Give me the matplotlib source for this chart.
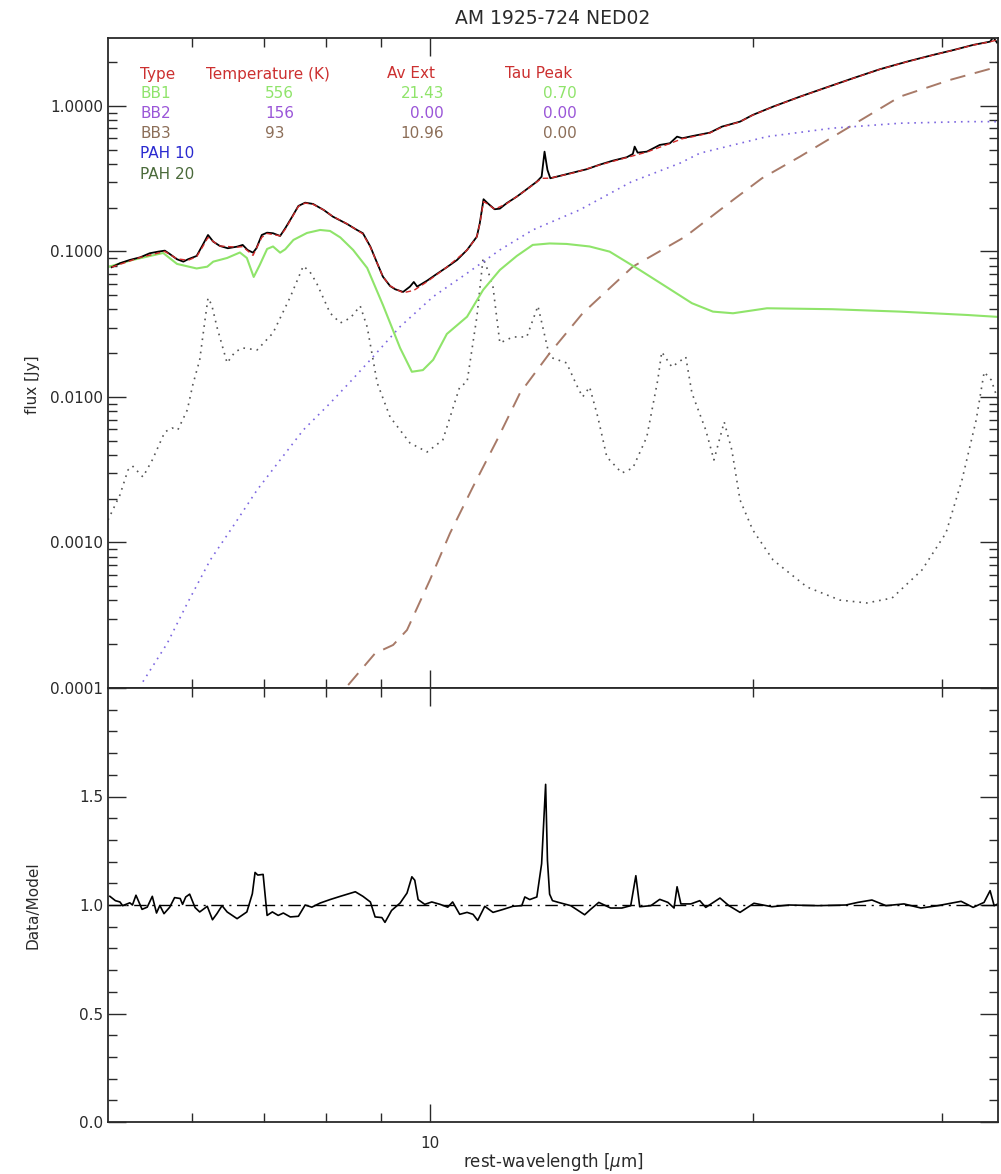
import numpy as np
import matplotlib
matplotlib.use("Agg")
import matplotlib.pyplot as plt
from matplotlib.ticker import FixedLocator, NullFormatter, FuncFormatter, MultipleLocator, LogLocator

# observed spectrum (rest wavelength in micron, flux in Jy)
wave_obs = [5.05, 5.14, 5.25, 5.37, 5.48, 5.58, 5.66, 5.72, 5.81, 5.89, 5.95, 6.06, 6.14, 6.21,
            6.28, 6.37, 6.48, 6.61, 6.69, 6.76, 6.84, 6.89, 6.97, 7.05, 7.14, 7.25, 7.33, 7.44,
            7.54, 7.65, 7.78, 7.96, 8.12, 8.37, 8.55, 8.66, 8.80, 8.93, 9.04, 9.18, 9.28, 9.44,
            9.58, 9.66, 9.73, 9.94, 10.15, 10.37, 10.60, 10.83, 11.06, 11.13, 11.22, 11.32, 11.49,
            11.62, 11.79, 12.05, 12.31, 12.58, 12.71, 12.79, 12.87, 12.95, 13.21, 13.59, 14.00,
            14.40, 14.81, 15.26, 15.46, 15.52, 15.62, 15.93, 16.38, 16.74, 17.00, 17.19, 17.59,
            18.24, 18.72, 19.46, 20.00, 20.89, 22.13, 23.45, 24.80, 26.28, 27.85, 29.45, 30.80,
            32.10, 33.29, 33.51, 33.79]
flux_obs = [0.0779, 0.0830, 0.0874, 0.0912, 0.0972, 0.0997, 0.1013, 0.0961, 0.0884, 0.0851,
            0.0884, 0.0931, 0.1109, 0.1298, 0.1168, 0.1091, 0.1052, 0.1079, 0.1109, 0.1024,
            0.0981, 0.1052, 0.1298, 0.1346, 0.1334, 0.1278, 0.1444, 0.1734, 0.2055, 0.2164,
            0.2121, 0.1929, 0.1734, 0.1545, 0.1405, 0.1334, 0.1079, 0.0830, 0.0671, 0.0579,
            0.0550, 0.0527, 0.0573, 0.0617, 0.0573, 0.0630, 0.0701, 0.0779, 0.0874, 0.1024,
            0.1264, 0.1562, 0.2285, 0.2145, 0.1950, 0.1969, 0.2145, 0.2380, 0.2676, 0.3018,
            0.3266, 0.4852, 0.3633, 0.3185, 0.3303, 0.3479, 0.3672, 0.3950, 0.4206, 0.4441,
            0.4678, 0.5253, 0.4775, 0.4852, 0.5395, 0.5541, 0.6152, 0.5998, 0.6220, 0.6554,
            0.7208, 0.7800, 0.8672, 0.989, 1.158, 1.344, 1.550, 1.788, 2.016, 2.241, 2.426,
            2.626, 2.766, 2.966, 2.723]

# total model
wave_mod = [5.05, 5.37, 5.66, 5.81, 5.95, 6.06, 6.14, 6.21, 6.28, 6.37, 6.61, 6.69, 6.84, 6.97,
            7.05, 7.25, 7.33, 7.44, 7.54, 7.65, 7.78, 7.96, 8.12, 8.37, 8.55, 8.66, 8.80, 8.93,
            9.04, 9.18, 9.44, 9.66, 9.94, 10.37, 10.83, 11.06, 11.13, 11.22, 11.32, 11.49, 11.79,
            12.31, 12.71, 12.95, 13.59, 14.40, 15.26, 15.93, 16.74, 17.19, 17.59, 18.24, 18.72,
            19.46, 20.00, 20.89, 22.13, 23.45, 24.80, 26.28, 27.85, 29.45, 30.80, 32.10, 33.29,
            33.86]
flux_mod = [0.078, 0.091, 0.100, 0.089, 0.087, 0.092, 0.108, 0.125, 0.117, 0.109, 0.107, 0.108,
            0.094, 0.125, 0.133, 0.128, 0.142, 0.172, 0.204, 0.215, 0.211, 0.193, 0.174, 0.155,
            0.140, 0.132, 0.107, 0.083, 0.067, 0.058, 0.052, 0.054, 0.062, 0.078, 0.102, 0.126,
            0.155, 0.220, 0.212, 0.195, 0.213, 0.266, 0.318, 0.319, 0.346, 0.393, 0.442, 0.482,
            0.552, 0.595, 0.615, 0.652, 0.715, 0.778, 0.865, 0.985, 1.155, 1.340, 1.545, 1.785,
            2.01, 2.235, 2.42, 2.62, 2.76, 2.85]

# blackbody components
wave_bb1 = [5.01, 5.28, 5.64, 5.81, 6.06, 6.20, 6.28, 6.47, 6.65, 6.75, 6.85, 6.94, 7.05, 7.14,
            7.25, 7.33, 7.46, 7.68, 7.90, 8.07, 8.25, 8.48, 8.74, 9.04, 9.38, 9.62, 9.85, 10.07,
            10.37, 10.83, 11.21, 11.62, 12.05, 12.47, 12.93, 13.41, 14.09, 14.71, 15.69, 16.60,
            17.55, 18.36, 19.17, 20.62, 23.70, 27.43, 31.68, 33.86]
flux_bb1 = [0.0782, 0.0874, 0.0976, 0.0821, 0.0764, 0.0786, 0.0851, 0.0902, 0.0984, 0.0902,
            0.0668, 0.0808, 0.1040, 0.1082, 0.0981, 0.1035, 0.1200, 0.1340, 0.1405, 0.1383,
            0.1248, 0.1024, 0.0770, 0.0429, 0.0217, 0.0149, 0.0153, 0.0180, 0.0271, 0.0356,
            0.0544, 0.0746, 0.0931, 0.1109, 0.1135, 0.1126, 0.1082, 0.0997, 0.0746, 0.0573,
            0.0441, 0.0386, 0.0376, 0.0407, 0.0401, 0.0386, 0.0366, 0.0355]

wave_bb2 = [5.40, 5.69, 5.94, 6.24, 6.55, 6.90, 7.25, 7.62, 8.07, 8.43, 8.74, 9.38, 10.07, 10.83,
            11.62, 12.47, 13.79, 15.40, 17.10, 17.85, 20.62, 23.70, 27.43, 31.68, 33.86]
flux_bb2 = [0.0001105, 0.000203, 0.000382, 0.000758, 0.001284, 0.002295, 0.00369, 0.005933,
            0.009051, 0.01274, 0.01704, 0.03042, 0.04891, 0.07083, 0.1024, 0.1405, 0.1929,
            0.300, 0.4039, 0.4731, 0.6152, 0.7028, 0.7605, 0.7800, 0.7800]

wave_bb3 = [8.39, 8.89, 9.24, 9.52, 10.0, 10.44, 10.97, 11.55, 12.13, 12.93, 13.88, 15.46, 17.30,
            19.17, 20.40, 22.13, 24.64, 27.43, 30.54, 33.86]
flux_bb3 = [0.0001048, 0.0001732, 0.0001975, 0.0002503, 0.0005526, 0.001157, 0.002418,
            0.005063, 0.01060, 0.01997, 0.0376, 0.07862, 0.1264, 0.2259, 0.3185, 0.4482,
            0.7208, 1.158, 1.509, 1.862]

# PAH emission
wave_pah = [5.01, 5.14, 5.23, 5.28, 5.40, 5.51, 5.66, 5.75, 5.82, 5.94, 6.01, 6.10, 6.17, 6.21,
            6.26, 6.33, 6.47, 6.58, 6.69, 6.90, 7.14, 7.41, 7.62, 7.73, 7.84, 8.07, 8.25, 8.43,
            8.61, 8.74, 8.93, 9.18, 9.58, 9.94, 10.28, 10.66, 10.83, 11.06, 11.21, 11.32, 11.45,
            11.62, 11.95, 12.31, 12.61, 12.93, 13.41, 13.70, 13.88, 14.09, 14.34, 14.62, 15.10,
            15.46, 15.93, 16.31, 16.45, 16.81, 17.32, 17.55, 18.08, 18.40, 18.81, 19.12, 19.46,
            20.00, 20.89, 22.47, 24.11, 25.55, 26.97, 28.76, 30.28, 31.34, 32.31, 32.87, 33.37,
            33.86]
flux_pah = [0.001427, 0.002121, 0.00315, 0.003356, 0.00282, 0.00369, 0.005748, 0.006123,
            0.005932, 0.00814, 0.01209, 0.01796, 0.03382, 0.0479, 0.04288, 0.03028, 0.01713,
            0.02039, 0.02172, 0.02104, 0.02754, 0.04867, 0.0795, 0.07228, 0.06074, 0.03779,
            0.03226, 0.03491, 0.0422, 0.03028, 0.01248, 0.007288, 0.004829, 0.004188, 0.005063,
            0.01171, 0.01268, 0.03548, 0.09022, 0.0746, 0.05702, 0.0235, 0.02585, 0.02585,
            0.0422, 0.01883, 0.01713, 0.01209, 0.0100, 0.01171, 0.007288, 0.003869, 0.003003,
            0.003251, 0.005311, 0.01309, 0.02039, 0.01608, 0.01883, 0.01065, 0.005932, 0.00369,
            0.006733, 0.004322, 0.00196, 0.001219, 0.000758, 0.000494, 0.000402, 0.000384,
            0.000415, 0.000647, 0.001162, 0.002689, 0.006948, 0.01485, 0.01309, 0.009537]

# data / model ratio
wave_ratio = [5.03, 5.09, 5.14, 5.17, 5.25, 5.28, 5.32, 5.39, 5.45, 5.51, 5.56, 5.60, 5.65, 5.72,
              5.78, 5.85, 5.88, 5.92, 5.97, 6.04, 6.10, 6.20, 6.27, 6.33, 6.40, 6.47, 6.61, 6.75,
              6.83, 6.87, 6.91, 6.99, 7.05, 7.13, 7.22, 7.30, 7.41, 7.54, 7.65, 7.76, 7.90, 8.07,
              8.25, 8.52, 8.66, 8.80, 8.89, 9.02, 9.08, 9.21, 9.38, 9.52, 9.62, 9.68, 9.75, 9.89,
              10.04, 10.22, 10.39, 10.50, 10.66, 10.83, 10.97, 11.08, 11.25, 11.45, 11.69, 11.95,
              12.18, 12.26, 12.39, 12.58, 12.71, 12.82, 12.87, 12.93, 13.01, 13.18, 13.53, 13.94,
              14.12, 14.37, 14.74, 15.10, 15.39, 15.56, 15.69, 16.07, 16.38, 16.67, 16.89, 17.00,
              17.14, 17.51, 17.85, 18.08, 18.64, 19.00, 19.46, 20.05, 20.84, 21.61, 23.00, 24.43,
              25.06, 25.83, 26.62, 27.67, 28.70, 29.76, 31.28, 32.10, 32.86, 33.29, 33.58, 33.86]
ratio = [1.04, 1.02, 1.014, 0.997, 1.01, 1.0, 1.045, 0.98, 0.99, 1.04, 0.963, 0.998, 0.96, 0.99,
         1.034, 1.03, 1.003, 1.037, 1.05, 0.988, 0.968, 0.994, 0.932, 0.96, 0.997, 0.968, 0.937,
         0.968, 1.052, 1.15, 1.138, 1.141, 0.952, 0.968, 0.952, 0.963, 0.945, 0.948, 1.0, 0.99,
         1.009, 1.025, 1.04, 1.061, 1.04, 1.014, 0.945, 0.942, 0.92, 0.975, 1.009, 1.055, 1.13,
         1.114, 1.025, 1.003, 1.014, 1.003, 0.99, 1.014, 0.957, 0.966, 0.957, 0.929, 0.994,
         0.966, 0.979, 0.994, 0.997, 1.037, 1.025, 1.037, 1.19, 1.556, 1.206, 1.05, 1.02, 1.012,
         0.997, 0.955, 0.98, 1.012, 0.986, 0.986, 0.997, 1.135, 0.992, 0.997, 1.026, 1.012,
         0.986, 1.084, 1.005, 1.005, 1.02, 0.989, 1.032, 0.997, 0.966, 1.008, 0.992, 1.0, 0.997,
         1.0, 1.012, 1.023, 0.997, 1.005, 0.986, 0.997, 1.017, 0.989, 1.012, 1.066, 0.997, 1.005]

# fit parameters table
comp_names = ["BB1", "BB2", "BB3", "PAH 10", "PAH 20"]
comp_colors = ["#8fe46a", "#9a55d8", "#8c6e58", "#2a2ad0", "#4a6a3a"]
temps = ["556", "156", "93"]
av_ext = ["21.43", "0.00", "10.96"]
tau_peak = ["0.70", "0.00", "0.00"]

W, H = 1001, 1174
ink = "#2a2a2a"
plt.rcParams["font.family"] = ["DejaVu Sans"]
plt.rcParams["axes.edgecolor"] = ink
plt.rcParams["xtick.color"] = ink
plt.rcParams["ytick.color"] = ink

fig = plt.figure(figsize=(W / 100, H / 100), dpi=100)
left, right = 108, 998
ax1 = fig.add_axes([left / W, 1 - 688 / H, (right - left) / W, (688 - 38) / H])
ax2 = fig.add_axes([left / W, 1 - 1122 / H, (right - left) / W, (1122 - 688) / H], sharex=ax1)

# upper panel: spectrum and model components
ax1.plot(wave_pah, flux_pah, color="#555555", lw=1.2, ls=(0, (1, 3)))
ax1.plot(wave_bb3, flux_bb3, color="#a87a68", lw=1.4, ls=(0, (8, 5)))
ax1.plot(wave_bb2, flux_bb2, color="#7c66e0", lw=1.2, ls=(0, (1, 3)))
ax1.plot(wave_bb1, flux_bb1, color="#8fe46a", lw=1.5)
ax1.plot(wave_obs, flux_obs, color="black", lw=1.3)
ax1.plot(wave_mod, flux_mod, color="#d02a2a", lw=1.0, ls=(0, (4, 2.5)))

ax1.set_xscale("log")
ax1.set_yscale("log")
ax1.set_xlim(5.01, 33.86)
ax1.set_ylim(1e-4, 2.93)
ax1.yaxis.set_major_locator(LogLocator(base=10, numticks=10))
ax1.yaxis.set_minor_locator(LogLocator(base=10, subs=np.arange(2, 10), numticks=10))
ax1.yaxis.set_major_formatter(FuncFormatter(lambda v, p: "%.4f" % v))
ax1.yaxis.set_minor_formatter(NullFormatter())

# lower panel: data / model
ax2.plot(wave_ratio, ratio, color="black", lw=1.2)
ax2.axhline(1.0, color="black", lw=1.0, ls=(0, (9, 4, 1.5, 4)))
ax2.set_ylim(0, 2)
ax2.yaxis.set_major_locator(MultipleLocator(0.5))
ax2.yaxis.set_minor_locator(MultipleLocator(0.1))
ax2.yaxis.set_major_formatter(FuncFormatter(lambda v, p: "" if v > 1.9 else "%.1f" % v))

for ax in (ax1, ax2):
    ax.xaxis.set_major_locator(FixedLocator([10]))
    ax.xaxis.set_minor_locator(FixedLocator([6, 7, 8, 9, 20, 30]))
    ax.xaxis.set_minor_formatter(NullFormatter())
    ax.tick_params(which="both", direction="in", top=True, right=True, width=1.0, labelsize=11)
    ax.tick_params(which="major", length=13)
    ax.tick_params(which="minor", length=6.5)
    for s in ax.spines.values():
        s.set_linewidth(1.3)

ax1.tick_params(axis="x", which="both", labelbottom=False)
ax2.xaxis.set_major_formatter(FuncFormatter(lambda v, p: "%d" % v))
ax2.tick_params(axis="x", pad=10)

# parameter table in the upper left
rows_y = [74, 94, 114, 134, 154, 175]
hdr = "#cc3030"
fs = 11
def put(x, y, s, c, ha="left"):
    fig.text(x / W, 1 - y / H, s, color=c, fontsize=fs, ha=ha, va="center")

put(140, rows_y[0], "Type", hdr)
put(206, rows_y[0], "Temperature (K)", hdr)
put(387, rows_y[0], "Av Ext", hdr)
put(505, rows_y[0], "Tau Peak", hdr)
for i, name in enumerate(comp_names):
    put(140, rows_y[i + 1], name, comp_colors[i])
for i in range(len(temps)):
    put(265, rows_y[i + 1], temps[i], comp_colors[i])
    put(444, rows_y[i + 1], av_ext[i], comp_colors[i], ha="right")
    put(577, rows_y[i + 1], tau_peak[i], comp_colors[i], ha="right")

fig.text(553 / W, 1 - 18 / H, "AM 1925-724 NED02", fontsize=13.5, color=ink, ha="center", va="center")
fig.text(33 / W, 1 - 385 / H, "flux [Jy]", fontsize=11, color=ink, rotation=90, ha="center", va="center")
fig.text(33 / W, 1 - 905 / H, "Data/Model", fontsize=11, color=ink, rotation=90, ha="center", va="center")
fig.text(553 / W, 1 - 1162 / H, r"rest-wavelength [$\mu$m]", fontsize=12, color=ink, ha="center", va="center")

fig.savefig("out.png", dpi=100, facecolor="white")
